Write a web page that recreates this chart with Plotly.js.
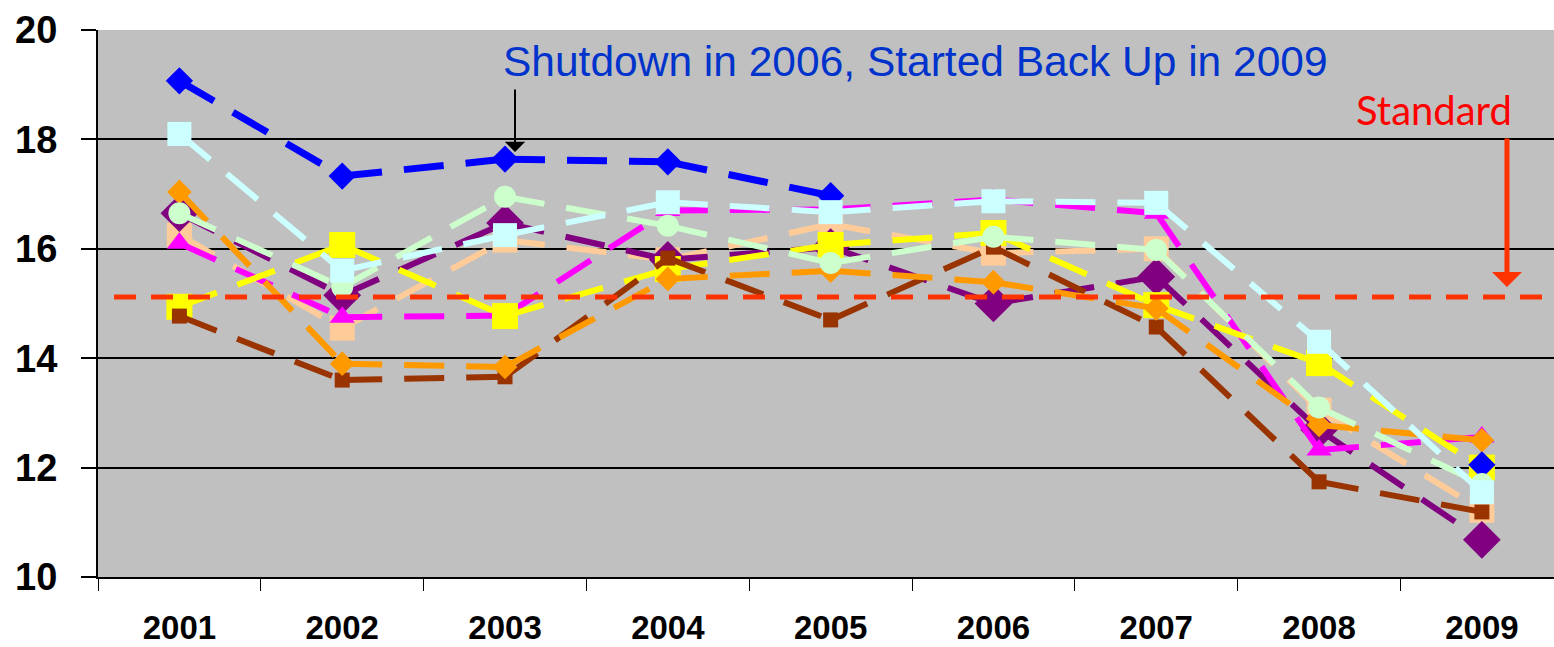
<!DOCTYPE html>
<html>
<head>
<meta charset="utf-8">
<script src="https://cdn.plot.ly/plotly-3.0.1.min.js"></script>
<style>html,body{margin:0;padding:0;background:#fff;}#chart{width:1554px;height:647px;}</style>
</head>
<body>
<div id="chart"></div>
<script>
const YEARS = ['2001','2002','2003','2004','2005','2006','2007','2008','2009'];
const BLUE    = [19.07, 17.33, 17.64, 17.59, 16.97, null, null, null, 12.05];
const CYAN    = [18.10, 15.60, 16.25, 16.85, 16.67, 16.87, 16.84, 14.30, 11.55];
const YELLOW  = [14.94, 16.07, 14.77, 15.63, 16.07, 16.29, 14.97, 13.91, 12.00];
const GREEN   = [16.65, 15.30, 16.95, 16.42, 15.74, 16.22, 15.98, 13.10, 11.70];
const PURPLE  = [16.65, 15.15, 16.47, 15.80, 16.03, 15.00, 15.49, 12.69, 10.68];
const MAGENTA = [16.10, 14.75, 14.78, 16.70, 16.72, 16.90, 16.65, 12.32, 12.56];
const PEACH   = [16.25, 14.55, 16.16, 15.80, 16.45, 15.92, 16.00, 13.05, 11.22];
const ORANGE  = [17.04, 13.90, 13.84, 15.45, 15.60, 15.39, 14.91, 12.78, 12.50];
const BROWN   = [14.77, 13.60, 13.66, 15.83, 14.70, 16.03, 14.57, 11.74, 11.19];
const STANDARD = 15.12;
const Y_TICKS = [10, 12, 14, 16, 18, 20];

// drawing order: bottom -> top
const SERIES = [
  {v: PEACH,   color: '#FFCC99', symbol: 'square',       size: 25, width: 6},
  {v: PURPLE,  color: '#800080', symbol: 'diamond',      size: 29, width: 6},
  {v: MAGENTA, color: '#FF00FF', symbol: 'triangle-up',  size: 22, width: 6},
  {v: YELLOW,  color: '#FFFF00', symbol: 'square',       size: 26, width: 6},
  {v: BROWN,   color: '#993300', symbol: 'square',       size: 15, width: 6},
  {v: ORANGE,  color: '#FF9900', symbol: 'diamond',      size: 19, width: 6},
  {v: BLUE,    color: '#0000FF', symbol: 'diamond',      size: 21, width: 7},
  {v: GREEN,   color: '#CCFFCC', symbol: 'circle',       size: 22, width: 6},
  {v: CYAN,    color: '#CCFFFF', symbol: 'square',       size: 24, width: 6}
];

const traces = [];
SERIES.forEach(s => {
  for (let i = 0; i < YEARS.length - 1; i++) {
    if (s.v[i] == null || s.v[i+1] == null) continue;
    traces.push({
      type: 'scatter', mode: 'lines', hoverinfo: 'skip', showlegend: false,
      x: [YEARS[i], YEARS[i+1]], y: [s.v[i], s.v[i+1]],
      line: {color: s.color, width: s.width, dash: '40px,22px'}
    });
  }
  traces.push({
    type: 'scatter', mode: 'markers', showlegend: false,
    x: YEARS, y: s.v,
    marker: {color: s.color, symbol: s.symbol, size: s.size, line: {width: 0}}
  });
});

const layout = {
  width: 1554, height: 647,
  margin: {l: 98, r: 0, t: 30, b: 70, pad: 0},
  paper_bgcolor: '#FFFFFF',
  plot_bgcolor: '#C0C0C0',
  showlegend: false,
  xaxis: {
    type: 'category', categoryorder: 'array', categoryarray: YEARS,
    range: [-0.5, 8.443],
    showgrid: false, zeroline: false,
    showline: true, linecolor: '#000000', linewidth: 2,
    ticks: 'outside', tickson: 'boundaries', ticklen: 12, tickwidth: 1, tickcolor: '#000000',
    ticklabelstandoff: 20,
    tickfont: {family: 'Liberation Sans Narrow, Arial Narrow, Liberation Sans, Arial, sans-serif', size: 33, color: '#000000', weight: 'bold'}
  },
  yaxis: {
    range: [10, 20], tickvals: Y_TICKS, ticktext: Y_TICKS.map(String),
    showgrid: true, gridcolor: '#000000', gridwidth: 2, zeroline: false,
    showline: true, linecolor: '#000000', linewidth: 2,
    ticks: 'outside', ticklen: 15, tickwidth: 2, tickcolor: '#000000',
    ticklabelstandoff: 16,
    tickfont: {family: 'Liberation Sans, Arial, sans-serif', size: 38, color: '#000000', weight: 'bold'}
  },
  shapes: [{
    type: 'line', xref: 'paper', yref: 'y', x0: 0.011, x1: 1, y0: STANDARD, y1: STANDARD,
    line: {color: '#FF3300', width: 5, dash: '22px,15px'}, layer: 'above'
  }],
  annotations: [
    {xref: 'paper', yref: 'y', x: 0.5618, y: 19.42, text: 'Shutdown in 2006, Started Back Up in 2009',
     showarrow: false, xanchor: 'center', yanchor: 'middle',
     font: {family: 'Liberation Sans, Arial, sans-serif', size: 42.5, color: '#0033CC'}},
    {xref: 'paper', yref: 'y', x: 0.9176, y: 18.54, text: 'Standard',
     showarrow: false, xanchor: 'center', yanchor: 'middle',
     font: {family: 'Lato, Gill Sans MT, sans-serif', size: 40, color: '#FF0000'}},
    {xref: 'paper', yref: 'y', x: 0.9677, y: 15.30, text: '', showarrow: true,
     ax: 0, ay: -150, axref: 'pixel', ayref: 'pixel',
     arrowhead: 1, arrowsize: 1, arrowwidth: 5, arrowcolor: '#FF3300', standoff: 0},
    {xref: 'paper', yref: 'y', x: 0.2864, y: 17.77, text: '', showarrow: true,
     ax: 0, ay: -64, axref: 'pixel', ayref: 'pixel',
     arrowhead: 1, arrowsize: 1.7, arrowwidth: 2, arrowcolor: '#000000', standoff: 0}
  ]
};

Plotly.newPlot('chart', traces, layout, {displayModeBar: false, staticPlot: true});
</script>
</body>
</html>
